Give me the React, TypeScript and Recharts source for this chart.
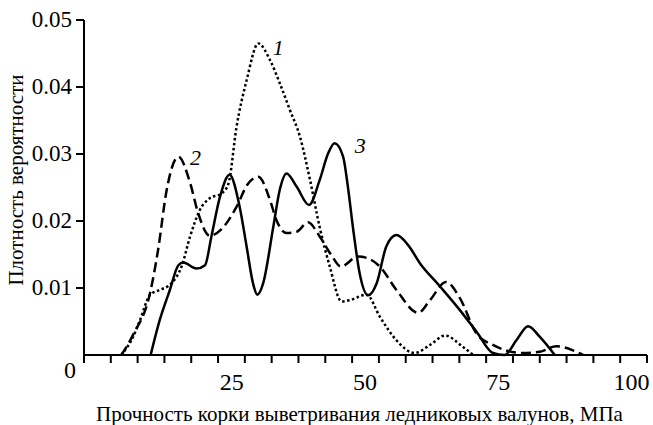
import React from "react";
import { LineChart, Line, XAxis, YAxis, ReferenceDot } from "recharts";

// curve 1 (dotted)
const curve1X = [4.3, 6.5, 7.8, 9.7, 11.5, 13.7, 15.6, 17.2, 19, 20.9, 23.1, 24.4, 25.9, 27.8, 30, 32.2, 34, 35.9, 37.8, 39.7, 41.5, 43.4, 45.6, 47.2, 50.3, 52.8, 55.9, 59.3, 62.2, 65, 68.4, 70.3];
const curve1Y = [0, 0.0027, 0.0052, 0.009, 0.0097, 0.0107, 0.0132, 0.0177, 0.0216, 0.0234, 0.0241, 0.0256, 0.034, 0.041, 0.0465, 0.044, 0.0406, 0.0366, 0.0326, 0.0261, 0.0191, 0.0132, 0.008, 0.0082, 0.009, 0.0057, 0.0022, 0.0003, 0.0015, 0.0029, 0.0012, 0];

// curve 2 (dashed)
const curve2X = [4.3, 6.5, 9.7, 11.2, 12.8, 15, 17.2, 18.7, 20.9, 23.1, 25.9, 28, 30, 32.2, 33.4, 35.3, 37.2, 39.3, 41.5, 43.7, 45.5, 48.7, 50.3, 52.8, 55.9, 60, 62.2, 65.2, 67.8, 70.9, 74, 79.6, 82.8, 85.9, 89, 90.9];
const curve2Y = [0, 0.003, 0.0093, 0.0157, 0.0246, 0.0296, 0.0257, 0.0212, 0.0178, 0.0188, 0.0221, 0.0255, 0.0266, 0.0231, 0.0201, 0.0182, 0.0184, 0.0198, 0.0177, 0.0149, 0.0132, 0.0147, 0.0145, 0.0132, 0.0097, 0.0063, 0.0082, 0.0109, 0.0085, 0.0032, 0.0015, 0.0003, 0.0005, 0.0013, 0.0007, 0];

// curve 3 (solid)
const curve3X = [9.8, 11.5, 13.4, 15, 15.9, 18.4, 20, 21.2, 22.8, 24.6, 26.5, 27.8, 29, 29.8, 30.9, 32.8, 34, 35.3, 37.2, 39.5, 41.5, 43.1, 44.3, 45.9, 46.8, 47.8, 49, 50.6, 52.2, 54, 55.9, 58.1, 60.3, 64, 67.8, 70.9, 74, 76.2, 78.4, 80.6, 82.8, 85.6];
const curve3Y = [0, 0.0052, 0.0097, 0.0134, 0.0138, 0.0129, 0.0134, 0.0177, 0.0236, 0.0269, 0.0221, 0.0162, 0.0107, 0.009, 0.0107, 0.0191, 0.0246, 0.0271, 0.0251, 0.0224, 0.0261, 0.0301, 0.0316, 0.0296, 0.0251, 0.0187, 0.0122, 0.0089, 0.0107, 0.0162, 0.0179, 0.0164, 0.0137, 0.0103, 0.0067, 0.0035, 0.0003, 0, 0.0022, 0.0043, 0.0027, 0];

const xTickLabels = [25, 50, 75, 100];
const yTickLabels = [0, 0.01, 0.02, 0.03, 0.04, 0.05];
const curveNames = ["1", "2", "3"];
// where the curve numbers sit (data units)
const curveNameSpots = [
  { x: 32.7, y: 0.0448 },
  { x: 17.2, y: 0.0284 },
  { x: 48.1, y: 0.0301 },
];

const FONT = "'Liberation Serif', 'Times New Roman', serif";
const X_MIN = -2.7;
const X_MAX = 102.9;
const tickMarks = Array.from({ length: 22 }, (_, i) => X_MIN + (i * (X_MAX - X_MIN)) / 21);

const toPoints = (xs, ys) => xs.map((x, i) => ({ x, y: ys[i] }));
const data1 = toPoints(curve1X, curve1Y);
const data2 = toPoints(curve2X, curve2Y);
const data3 = toPoints(curve3X, curve3Y);

const XTick = (props) => {
  const { x, y, payload } = props;
  if (xTickLabels.includes(payload.value)) {
    return (
      <text x={x} y={y + 35} textAnchor="middle" fontFamily={FONT} fontSize={24} fill="#000">
        {payload.value}
      </text>
    );
  }
  return <line x1={x} y1={y} x2={x} y2={y + 8} stroke="#000" strokeWidth={2} />;
};

const YTick = (props) => {
  const { x, y, payload } = props;
  if (payload.value === 0) {
    return (
      <text x={x - 14} y={y + 23} textAnchor="middle" fontFamily={FONT} fontSize={24} fill="#000">
        0
      </text>
    );
  }
  return (
    <g>
      <line x1={x - 8} y1={y} x2={x} y2={y} stroke="#000" strokeWidth={2} />
      <text x={x - 12} y={y + 7} textAnchor="end" fontFamily={FONT} fontSize={23} fill="#000">
        {payload.value.toFixed(2)}
      </text>
    </g>
  );
};

export default function App() {
  return (
    <div style={{ position: "absolute", left: 0, top: 0, background: "#fff" }}>
      <LineChart width={653} height={425} margin={{ top: 20, right: 6, bottom: 0, left: 0 }}>
        <XAxis
          type="number"
          dataKey="x"
          domain={[X_MIN, X_MAX]}
          ticks={[...tickMarks, ...xTickLabels]}
          interval={0}
          tick={<XTick />}
          tickLine={false}
          tickSize={0}
          tickMargin={0}
          height={70}
          axisLine={{ stroke: "#000", strokeWidth: 2 }}
          allowDataOverflow
          label={{
            content: ({ viewBox }) => (
              <text
                x={viewBox.x + viewBox.width / 2 - 6}
                y={viewBox.y + 66}
                textAnchor="middle"
                fontFamily={FONT}
                fontSize={21}
                fill="#000"
              >
                Прочность корки выветривания ледниковых валунов, МПа
              </text>
            ),
          }}
        />
        <YAxis
          type="number"
          domain={[0, 0.05]}
          ticks={yTickLabels}
          interval={0}
          tick={<YTick />}
          tickLine={false}
          tickSize={0}
          tickMargin={0}
          width={84}
          axisLine={{ stroke: "#000", strokeWidth: 2 }}
          label={{
            content: ({ viewBox }) => {
              const cx = viewBox.x + 23;
              const cy = viewBox.y + 160;
              return (
                <text
                  x={cx}
                  y={cy}
                  transform={`rotate(-90 ${cx} ${cy})`}
                  textAnchor="middle"
                  fontFamily={FONT}
                  fontSize={21}
                  fill="#000"
                >
                  Плотность вероятности
                </text>
              );
            },
          }}
        />
        <Line data={data1} dataKey="y" type="monotone" stroke="#000" strokeWidth={2.5} strokeDasharray="2.5 2.5" dot={false} isAnimationActive={false} />
        <Line data={data2} dataKey="y" type="monotone" stroke="#000" strokeWidth={2.5} strokeDasharray="10 5" dot={false} isAnimationActive={false} />
        <Line data={data3} dataKey="y" type="monotone" stroke="#000" strokeWidth={2.5} dot={false} isAnimationActive={false} />
        {curveNameSpots.map((s, i) => (
          <ReferenceDot
            key={curveNames[i]}
            x={s.x}
            y={s.y}
            r={0}
            fill="none"
            stroke="none"
            label={{
              content: ({ viewBox }) => (
                <text x={viewBox.x} y={viewBox.y} fontFamily={FONT} fontStyle="italic" fontSize={22} fill="#000">
                  {curveNames[i]}
                </text>
              ),
            }}
          />
        ))}
      </LineChart>
    </div>
  );
}
